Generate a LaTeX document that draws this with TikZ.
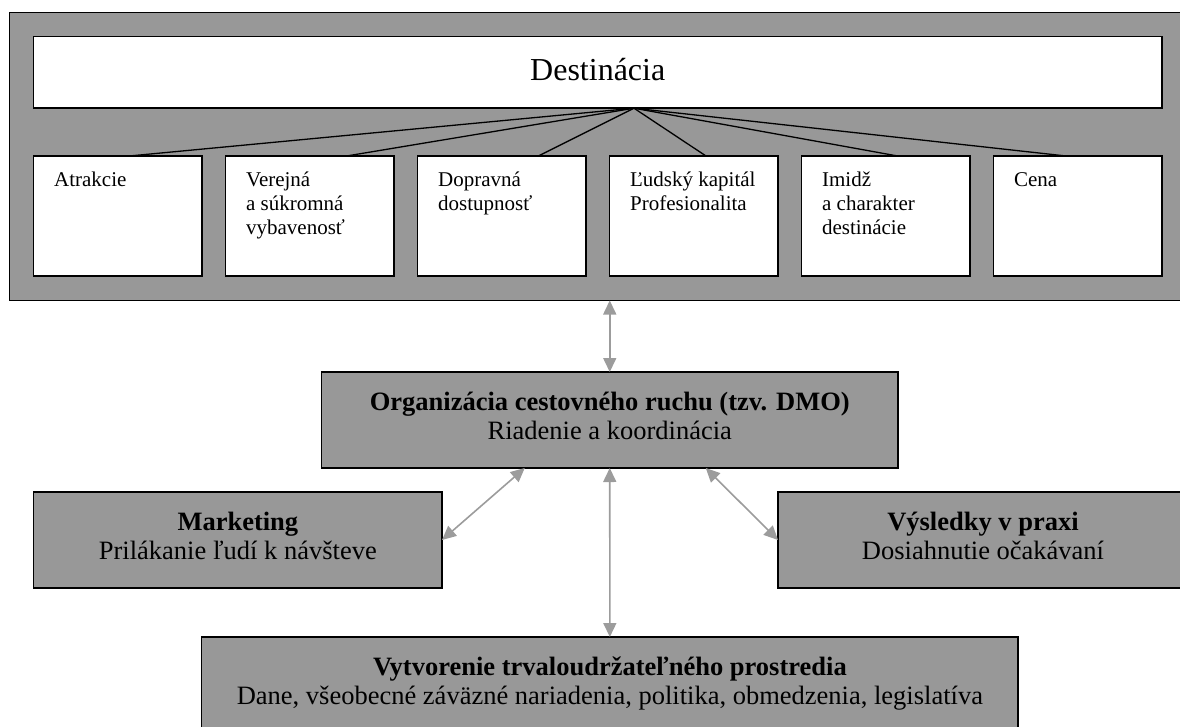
\documentclass[tikz,border=0pt]{standalone}
\usepackage{fontspec}
\setmainfont{Liberation Serif}
\usepackage{tikz}
\usetikzlibrary{positioning, arrows.meta, calc}

\definecolor{panelgray}{HTML}{989898}
\definecolor{linkgray}{HTML}{9C9C9C}

% top-aligned text inside the factor boxes
\newcommand{\factext}[1]{\parbox[c][92pt][t]{127pt}{\raggedright\strut#1}}

\begin{document}
\begin{tikzpicture}[
    x=1pt, y=-1pt,
    % Grey frame holding the whole destination
    panel/.style={
        draw=black,
        fill=panelgray,
        line width=1.5pt,
        rectangle,
        inner sep=0pt,
        outer sep=0pt,
        anchor=north west
    },
    % White title bar on top
    titlebox/.style={
        draw=black,
        fill=white,
        line width=1.6pt,
        rectangle,
        inner sep=0pt,
        outer sep=0pt,
        anchor=north west,
        font=\fontsize{32}{38}\selectfont,
        execute at begin node=\strut
    },
    % White factor boxes, text in the upper left corner
    factorbox/.style={
        draw=black,
        fill=white,
        line width=1.6pt,
        rectangle,
        inner xsep=20.5pt,
        inner ysep=14pt,
        outer sep=0pt,
        minimum width=168.3pt,
        minimum height=120pt,
        font=\fontsize{21}{24}\selectfont
    },
    % Grey boxes below the frame
    mainbox/.style={
        draw=black,
        fill=panelgray,
        line width=1.5pt,
        rectangle,
        align=center,
        inner sep=0pt,
        outer sep=0pt,
        anchor=north west,
        minimum height=96pt,
        font=\fontsize{26.5}{29.5}\selectfont,
        execute at begin node=\strut,
        execute at end node=\strut
    },
    % Thin black lines from the title bar
    spoke/.style={
        draw=black,
        line width=1.3pt
    },
    % Grey two-headed arrows
    link/.style={
        {Triangle[length=14pt, width=13pt]}-{Triangle[length=14pt, width=13pt]},
        color=linkgray,
        line width=1.6pt
    }
]

\useasboundingbox (0,0) rectangle (1180,727);
\clip (0,0) rectangle (1180,727);

% --- Destination frame ---
\node[panel, minimum width=1177pt, minimum height=287.8pt] (frame) at (9.3,12.7) {};
\node[titlebox, minimum width=1128.5pt, minimum height=71.5pt] (dest) at (33.5,36.7) {Destinácia};

% --- Row of factors ---
\node[factorbox, anchor=north west] (attr) at (33.5,156) {\factext{Atrakcie}};
\node[factorbox, right=23.7pt of attr] (amen) {\factext{Verejná\\a súkromná\\vybavenosť}};
\node[factorbox, right=23.7pt of amen] (access) {\factext{Dopravná\\dostupnosť}};
\node[factorbox, right=23.7pt of access] (human) {\factext{Ľudský kapitál\\Profesionalita}};
\node[factorbox, right=23.7pt of human] (image) {\factext{Imidž\\a charakter\\destinácie}};
\node[factorbox, right=23.7pt of image] (price) {\factext{Cena}};

% Lines fanning out from one point under the title
\coordinate (hub) at ([xshift=36.2pt]dest.south);
\draw[spoke] (hub) -- ([xshift=95.8pt]attr.north west);
\draw[spoke] (hub) -- ([xshift=121pt]amen.north west);
\draw[spoke] (hub) -- ([xshift=120.8pt]access.north west);
\draw[spoke] (hub) -- ([xshift=96.5pt]human.north west);
\draw[spoke] (hub) -- ([xshift=96.1pt]image.north west);
\draw[spoke] (hub) -- ([xshift=72.5pt]price.north west);

% --- Management and its surroundings ---
\node[mainbox, minimum width=576.5pt] (dmo) at (321.5,372) {
    \textbf{Organizácia cestovného ruchu (tzv. DMO)}\\
    Riadenie a koordinácia
};
\node[mainbox, minimum width=408.3pt] (mkt) at (33.7,492) {
    \textbf{Marketing}\\
    Prilákanie ľudí k návšteve
};
\node[mainbox, minimum width=410pt] (res) at (778,492) {
    \textbf{Výsledky v praxi}\\
    Dosiahnutie očakávaní
};
\node[mainbox, minimum width=816.3pt] (env) at (201.7,637) {
    \textbf{Vytvorenie trvaloudržateľného prostredia}\\
    Dane, všeobecné záväzné nariadenia, politika, obmedzenia, legislatíva
};

% Two-headed links
\draw[link] (frame.south -| dmo.north) -- (dmo.north);
\draw[link] (dmo.south) -- (env.north);
\draw[link] (mkt.east) -- ([xshift=-85pt]dmo.south);
\draw[link] ([xshift=96pt]dmo.south) -- (res.west);

\end{tikzpicture}
\end{document}
